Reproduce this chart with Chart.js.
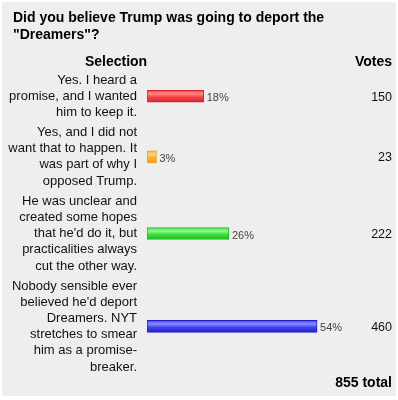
<!DOCTYPE html>
<html>
<head>
<meta charset="utf-8">
<style>
  html, body { margin: 0; padding: 0; background: #fff; }
</style>
<script src="https://cdn.jsdelivr.net/npm/chart.js@4.4.0/dist/chart.umd.min.js"></script>
</head>
<body>
<canvas id="poll" width="398" height="400"></canvas>
<script>
const question = ['Did you believe Trump was going to deport the', '"Dreamers"?'];
const choices = [
    ['Yes. I heard a', 'promise, and I wanted', 'him to keep it.'],
    ['Yes, and I did not', 'want that to happen. It', 'was part of why I', 'opposed Trump.'],
    ['He was unclear and', 'created some hopes', "that he'd do it, but", 'practicalities always', 'cut the other way.'],
    ['Nobody sensible ever', "believed he'd deport", 'Dreamers. NYT', 'stretches to smear', 'him as a promise-', 'breaker.']
];
const percents = [18, 3, 26, 54];
const votes = [150, 23, 222, 460];
const totalVotes = 855;

// bar look: dark edge, main fill, light shine
const barEdge = ['#d6262a', '#f09a18', '#1cb81c', '#2020c8'];
const barFill = ['#f4464b', '#ffb436', '#40e040', '#4646f0'];
const barShine = ['#ff8a8e', '#ffd27a', '#92f592', '#8c8cff'];

const FONT = '"Liberation Sans", Arial, sans-serif';
const LINE = 16.2;
const GAP = 0.24; // space between rows, in lines

// each row is as tall as its label
let acc = 0;
const rowPos = choices.map(lines => {
    const mid = acc + lines.length / 2;
    acc += lines.length + GAP;
    return mid;
});
const rowSpan = acc - GAP;

const pollPanel = {
    id: 'pollPanel',
    beforeDraw(chart) {
        const c = chart.ctx;
        c.save();
        c.fillStyle = '#fff';
        c.fillRect(0, 0, chart.width, chart.height);
        c.fillStyle = '#eeeeee';
        c.fillRect(2, 2, 394, 394);
        c.restore();
    },
    afterDatasetsDraw(chart) {
        const c = chart.ctx;
        const y = chart.scales.y;
        c.save();
        c.textBaseline = 'middle';
        chart.getDatasetMeta(0).data.forEach((bar, i) => {
            c.font = '11px ' + FONT;
            c.fillStyle = '#444';
            c.textAlign = 'left';
            c.fillText(percents[i] + '%', bar.x + 3, bar.y + 2);
            c.font = '12.5px ' + FONT;
            c.fillStyle = '#111';
            c.textAlign = 'right';
            c.fillText(String(votes[i]), 392, y.getPixelForValue(rowPos[i]) + 1);
        });
        c.restore();
    },
    afterDraw(chart) {
        const c = chart.ctx;
        c.save();
        c.fillStyle = '#000';
        c.textBaseline = 'middle';
        c.font = 'bold 14px ' + FONT;
        c.textAlign = 'left';
        question.forEach((t, i) => c.fillText(t, 13, 18 + i * 17));
        c.textAlign = 'center';
        c.fillText('Selection', 116, 62);
        c.textAlign = 'right';
        c.fillText('Votes', 392, 62);
        c.fillText(totalVotes + ' total', 392, 383);
        c.restore();
    }
};

function barGradient(ctx) {
    const chart = ctx.chart;
    const i = ctx.dataIndex;
    if (i === undefined || !chart.scales.y) return barFill[0];
    const cy = chart.scales.y.getPixelForValue(rowPos[i]);
    if (!isFinite(cy)) return barFill[i];
    const g = chart.ctx.createLinearGradient(0, cy - 6, 0, cy + 6);
    g.addColorStop(0, barFill[i]);
    g.addColorStop(0.3, barShine[i]);
    g.addColorStop(0.55, barFill[i]);
    g.addColorStop(1, barEdge[i]);
    return g;
}

new Chart(document.getElementById('poll'), {
    type: 'bar',
    data: {
        datasets: [{
            data: percents.map((p, i) => ({ x: p, y: rowPos[i] })),
            backgroundColor: barGradient,
            borderColor: ctx => barEdge[ctx.dataIndex] || barEdge[0],
            borderWidth: 1,
            borderSkipped: false,
            barThickness: 12
        }]
    },
    plugins: [pollPanel],
    options: {
        indexAxis: 'y',
        responsive: false,
        animation: false,
        events: [],
        layout: { padding: { top: 72, bottom: 25, left: 0, right: 62 } },
        plugins: {
            legend: { display: false },
            tooltip: { enabled: false }
        },
        scales: {
            x: { display: false, min: 0, max: 60 },
            y: {
                type: 'linear',
                reverse: true,
                offset: false,
                min: 0,
                max: rowSpan,
                grid: { display: false, offset: false },
                border: { display: false },
                afterBuildTicks: s => { s.ticks = rowPos.map(v => ({ value: v })); },
                afterFit: s => {
                    s.width = 147;
                    s.paddingTop = 0;
                    s.paddingBottom = 0;
                },
                ticks: {
                    autoSkip: false,
                    padding: 2,
                    color: '#111',
                    font: { family: FONT, size: 13, lineHeight: LINE / 13 },
                    callback: (v, i) => choices[i]
                }
            }
        }
    }
});
</script>
</body>
</html>
